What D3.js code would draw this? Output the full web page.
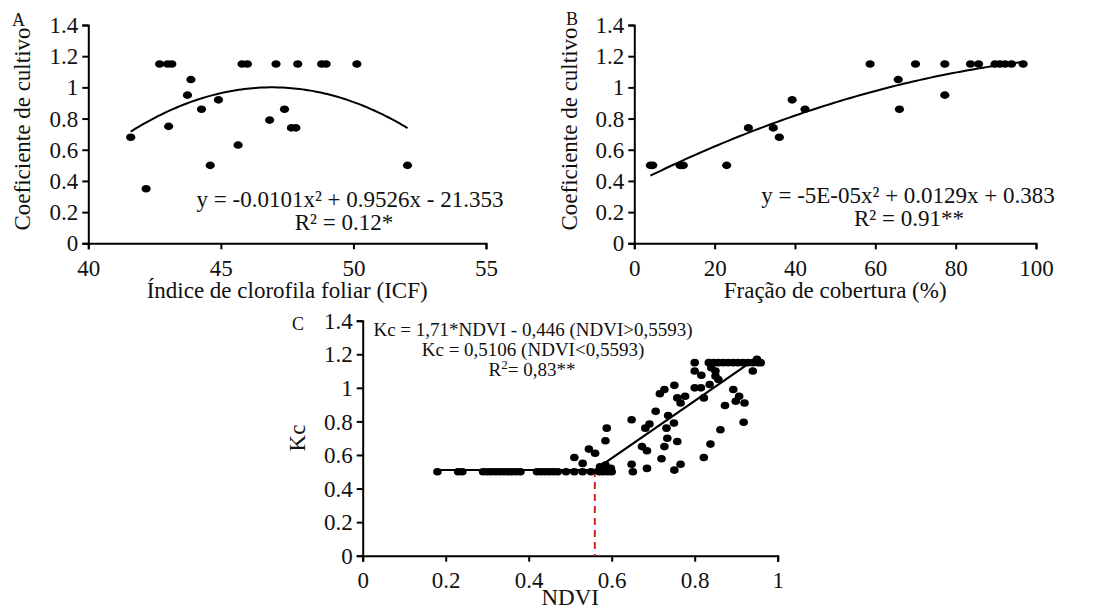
<!DOCTYPE html>
<html>
<head>
<meta charset="utf-8">
<script src="https://cdn.jsdelivr.net/npm/d3@7/dist/d3.min.js"></script>
<style>
  html, body { margin: 0; padding: 0; background: #fff; }
  svg { display: block; }
  text { font-family: "Liberation Serif", "Times New Roman", serif; fill: #111; }
</style>
</head>
<body>
<svg id="chart" width="1094" height="609"></svg>
<script>
// ---------------- DATA ----------------
// Panel A: Índice de clorofila foliar (ICF) vs Coeficiente de cultivo
const icfA = [41.6, 42.18, 42.69, 42.99, 43.15, 43.03, 43.74, 43.87, 44.27, 44.6, 44.91, 45.65, 45.8, 46.0, 46.84, 47.08, 47.4, 47.66, 47.83, 47.9, 48.8, 48.97, 50.13, 52.04];
const kcA  = [0.68, 0.35, 1.15, 1.15, 1.15, 0.75, 0.95, 1.05, 0.86, 0.50, 0.92, 0.63, 1.15, 1.15, 0.79, 1.15, 0.86, 0.74, 0.74, 1.15, 1.15, 1.15, 1.15, 0.50];
// quadratic trend as drawn (a, b, c) and its x range
const fitA = [-0.0100, 0.9386, -21.024];
const fitARange = [41.6, 52.04];

// Panel B: Fração de cobertura (%) vs Coeficiente de cultivo
const fcB = [4.0, 4.6, 11.4, 12.2, 23.0, 28.4, 34.6, 36.1, 39.3, 42.5, 58.7, 65.7, 66.0, 70.0, 77.3, 77.3, 83.7, 85.7, 89.8, 91.0, 92.3, 93.9, 96.8];
const kcB = [0.50, 0.50, 0.50, 0.50, 0.50, 0.74, 0.74, 0.68, 0.92, 0.86, 1.15, 1.05, 0.86, 1.15, 1.15, 0.95, 1.15, 1.15, 1.15, 1.15, 1.15, 1.15, 1.15];
const fitB = [-0.00005, 0.0129, 0.383];
const fitBRange = [4, 97];

// Panel C: NDVI vs Kc
const ndviC = [
  0.18, 0.23, 0.24, 0.29, 0.30, 0.31, 0.32, 0.33, 0.34, 0.35, 0.36, 0.37, 0.38, 0.42, 0.43, 0.44, 0.45, 0.46, 0.47, 0.49, 0.51, 0.53, 0.55, 0.57, 0.58, 0.59, 0.60,
  0.51, 0.53, 0.545, 0.56, 0.572, 0.585, 0.585, 0.588, 0.598,
  0.648, 0.648, 0.651, 0.673, 0.685, 0.685, 0.681, 0.691, 0.706, 0.716, 0.727, 0.720, 0.727, 0.732, 0.736, 0.734, 0.750, 0.751, 0.758, 0.758, 0.766, 0.777, 0.751, 0.766,
  0.800, 0.815, 0.822, 0.822, 0.838, 0.800, 0.800, 0.816, 0.836, 0.850, 0.857, 0.862, 0.873, 0.893, 0.899, 0.907, 0.920, 0.918, 0.940, 0.840, 0.850,
  0.834, 0.846, 0.857, 0.869, 0.881, 0.893, 0.904, 0.916, 0.928, 0.940, 0.952, 0.959, 0.950
];
const kcC = [
  0.50, 0.50, 0.50, 0.50, 0.50, 0.50, 0.50, 0.50, 0.50, 0.50, 0.50, 0.50, 0.50, 0.50, 0.50, 0.50, 0.50, 0.50, 0.50, 0.50, 0.50, 0.50, 0.50, 0.50, 0.50, 0.50, 0.50,
  0.585, 0.55, 0.635, 0.61, 0.53, 0.54, 0.685, 0.76, 0.52,
  0.81, 0.545, 0.50, 0.65, 0.625, 0.52, 0.76, 0.785, 0.86, 0.965, 0.99, 0.578, 0.65, 0.76, 0.835, 0.70, 0.79, 1.015, 0.94, 0.68, 0.91, 0.95, 0.51, 0.545,
  1.00, 1.00, 0.94, 0.585, 0.665, 1.15, 1.10, 1.075, 1.02, 1.07, 1.05, 0.75, 0.895, 0.99, 0.92, 0.95, 0.91, 0.795, 1.10, 1.12, 1.10,
  1.15, 1.15, 1.15, 1.15, 1.15, 1.15, 1.15, 1.15, 1.15, 1.15, 1.15, 1.15, 1.17
];
// segmented model: Kc = 1.71*NDVI - 0.446 (NDVI > 0.5593); Kc = 0.5106 (NDVI < 0.5593)
const segC = { slope: 1.71, intercept: -0.446, plateau: 0.5106, breakX: 0.5593, startX: 0.18, endX: 0.95 };

// ticks
const kcTicks = [0, 0.2, 0.4, 0.6, 0.8, 1, 1.2, 1.4];
const icfTicks = [40, 45, 50, 55];
const fcTicks = [0, 20, 40, 60, 80, 100];
const ndviTicks = [0, 0.2, 0.4, 0.6, 0.8, 1];

// ---------------- DRAW ----------------
const svg = d3.select("#chart");
svg.append("rect").attr("width", 1094).attr("height", 609).attr("fill", "#fff");

const fmt = d => String(+d.toFixed(1));

function panel(cfg) {
  const g = svg.append("g");
  const x = d3.scaleLinear().domain(cfg.xDomain).range(cfg.xRange);
  const y = d3.scaleLinear().domain([0, 1.4]).range(cfg.yRange);

  const yAxis = g.append("g").attr("transform", `translate(${cfg.xRange[0]},0)`)
    .call(d3.axisLeft(y).tickValues(kcTicks).tickSize(6).tickSizeOuter(6).tickFormat(fmt));
  const xAxis = g.append("g").attr("transform", `translate(0,${cfg.yRange[0]})`)
    .call(d3.axisBottom(x).tickValues(cfg.xTicks).tickSize(6).tickSizeOuter(6).tickFormat(cfg.xFmt || fmt));
  [yAxis, xAxis].forEach(a => {
    a.attr("font-family", null).attr("font-size", null);
    a.selectAll("path.domain").attr("stroke", "#000").attr("stroke-width", 2);
    a.selectAll(".tick line").attr("stroke", "#000").attr("stroke-width", 2);
    a.selectAll(".tick text").attr("fill", "#111").style("font-size", "23px");
  });
  yAxis.selectAll(".tick text").attr("x", -10).attr("dy", "0.33em");
  xAxis.selectAll(".tick text").attr("y", cfg.xLabelOffset).attr("dy", 0);

  // titles
  g.append("text").attr("x", (cfg.xRange[0] + cfg.xRange[1]) / 2).attr("y", cfg.xTitleY)
    .attr("text-anchor", "middle").style("font-size", "23px").text(cfg.xTitle);
  g.append("text").attr("transform", `translate(${cfg.yTitleX},${cfg.yTitleY}) rotate(-90)`)
    .attr("text-anchor", "middle").style("font-size", "23px").text(cfg.yTitle);
  g.append("text").attr("x", cfg.letter[0]).attr("y", cfg.letter[1])
    .style("font-size", "18px").text(cfg.letter[2]);
  return { g, x, y };
}

function dots(g, x, y, xs, ys, rx, ry) {
  g.append("g").selectAll("ellipse").data(xs.map((v, i) => [v, ys[i]])).join("ellipse")
    .attr("cx", d => x(d[0])).attr("cy", d => y(d[1]))
    .attr("rx", rx).attr("ry", ry).attr("fill", "#000");
}

function quadCurve(g, x, y, coef, range) {
  const pts = d3.range(0, 101).map(i => {
    const xv = range[0] + (range[1] - range[0]) * i / 100;
    return [xv, coef[0] * xv * xv + coef[1] * xv + coef[2]];
  });
  g.append("path").attr("d", d3.line().x(d => x(d[0])).y(d => y(d[1]))(pts))
    .attr("fill", "none").attr("stroke", "#000").attr("stroke-width", 2);
}

// Panel A
const A = panel({
  xDomain: [40, 55], xRange: [88.3, 486], yRange: [243.3, 25], xTicks: icfTicks,
  xLabelOffset: 33, xTitle: "Índice de clorofila foliar (ICF)", xTitleY: 298,
  yTitle: "Coeficiente de cultivo", yTitleX: 30, yTitleY: 129, letter: [12, 26, "A"]
});
quadCurve(A.g, A.x, A.y, fitA, fitARange);
dots(A.g, A.x, A.y, icfA, kcA, 4.6, 3.8);
A.g.append("text").attr("x", 350).attr("y", 207).attr("text-anchor", "middle").style("font-size", "23px")
  .text("y = -0.0101x² + 0.9526x - 21.353");
A.g.append("text").attr("x", 344).attr("y", 230).attr("text-anchor", "middle").style("font-size", "23px")
  .text("R² = 0.12*");

// Panel B
const B = panel({
  xDomain: [0, 100], xRange: [634.3, 1036], yRange: [243.3, 25], xTicks: fcTicks,
  xLabelOffset: 33, xTitle: "Fração de cobertura (%)", xTitleY: 298,
  yTitle: "Coeficiente de cultivo", yTitleX: 577, yTitleY: 129, letter: [566, 25, "B"]
});
quadCurve(B.g, B.x, B.y, fitB, fitBRange);
dots(B.g, B.x, B.y, fcB, kcB, 4.6, 3.8);
B.g.append("text").attr("x", 908).attr("y", 203).attr("text-anchor", "middle").style("font-size", "23px")
  .text("y = -5E-05x² + 0.0129x + 0.383");
B.g.append("text").attr("x", 909).attr("y", 226).attr("text-anchor", "middle").style("font-size", "23px")
  .text("R² = 0.91**");

// Panel C
const C = panel({
  xDomain: [0, 1], xRange: [362.7, 777.7], yRange: [555.7, 320.7], xTicks: ndviTicks,
  xLabelOffset: 32, xTitle: "NDVI", xTitleY: 605,
  yTitle: "Kc", yTitleX: 305, yTitleY: 438, letter: [292, 330, "C"]
});
// red dashed break line
C.g.append("line")
  .attr("x1", C.x(segC.breakX)).attr("x2", C.x(segC.breakX))
  .attr("y1", C.y(segC.plateau)).attr("y2", C.y(0))
  .attr("stroke", "#d9231d").attr("stroke-width", 2).attr("stroke-dasharray", "7,5");
dots(C.g, C.x, C.y, ndviC, kcC, 4.3, 3.8);
const segPts = [
  [segC.startX, segC.plateau],
  [segC.breakX, segC.plateau],
  [segC.endX, segC.slope * segC.endX + segC.intercept]
];
C.g.append("path").attr("d", d3.line().x(d => C.x(d[0])).y(d => C.y(d[1]))(segPts))
  .attr("fill", "none").attr("stroke", "#000").attr("stroke-width", 2.2);

const eqC = C.g.append("g").style("font-size", "19px");
eqC.append("text").attr("x", 533).attr("y", 336).attr("text-anchor", "middle")
  .text("Kc = 1,71*NDVI - 0,446 (NDVI>0,5593)");
eqC.append("text").attr("x", 533).attr("y", 356).attr("text-anchor", "middle")
  .text("Kc = 0,5106 (NDVI<0,5593)");
const r2 = eqC.append("text").attr("x", 532).attr("y", 376).attr("text-anchor", "middle");
r2.append("tspan").text("R");
r2.append("tspan").attr("dy", -7).style("font-size", "13px").text("2");
r2.append("tspan").attr("dy", 7).text("= 0,83**");
</script>
</body>
</html>
